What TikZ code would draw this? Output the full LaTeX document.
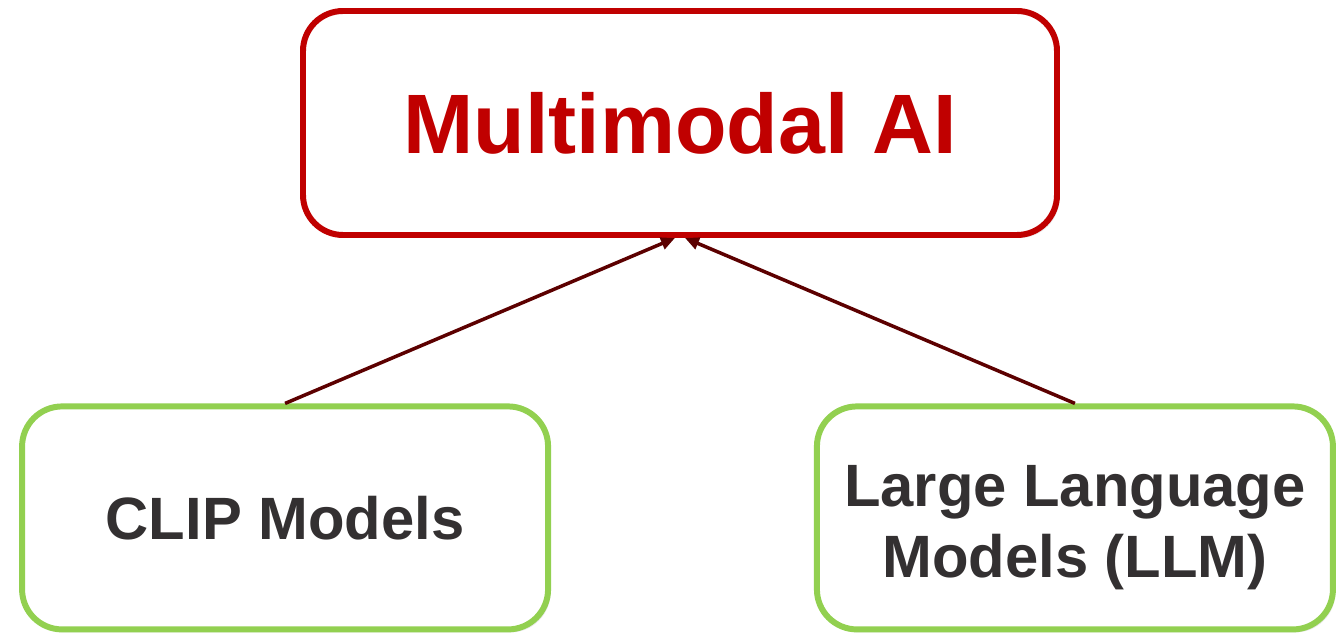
\documentclass[tikz,border=0pt]{standalone}
\usepackage{fontspec}
\setmainfont{Liberation Sans}
\usetikzlibrary{positioning,arrows.meta,shadows}
\definecolor{boxred}{HTML}{C00000}
\definecolor{boxgreen}{HTML}{92D050}
\definecolor{txtgray}{HTML}{333031}
\definecolor{arrowred}{HTML}{5C0000}
\begin{document}
\begin{tikzpicture}[main/.style = {draw, rounded corners=0.8cm, line width=3.4pt, fill=white, align=center, font=\bfseries,
        drop shadow={opacity=0.18, shadow xshift=0.05cm, shadow yshift=-0.06cm}},
    node distance=11.17cm]
        \useasboundingbox (0,0) rectangle (26.72,12.7);
        \node[main, draw=boxred, text=boxred, minimum width=15.08cm, minimum height=4.48cm,
            font=\bfseries\fontsize{48}{58}\selectfont] (0) at (13.6,10.24) {Multimodal AI};
        \node[main, draw=boxgreen, text=txtgray, minimum width=10.52cm, minimum height=4.46cm,
            font=\bfseries\fontsize{34}{40.5}\selectfont] (1) [below left of=0] {CLIP Models};
        \node[main, draw=boxgreen, text=txtgray, minimum width=10.32cm, minimum height=4.46cm,
            font=\bfseries\fontsize{34}{40.5}\selectfont] (2) [below right of=0] {\rule{0pt}{34pt}Large Language\\Models (LLM)};
        \draw[-{Triangle[length=0.28cm,width=0.24cm]}, arrowred, line width=2pt] (1.north) -- ([xshift=-0.1cm]0.south);
        \draw[-{Triangle[length=0.28cm,width=0.24cm]}, arrowred, line width=2pt] (2.north) -- ([xshift=0.1cm]0.south);
    \end{tikzpicture}
\end{document}
